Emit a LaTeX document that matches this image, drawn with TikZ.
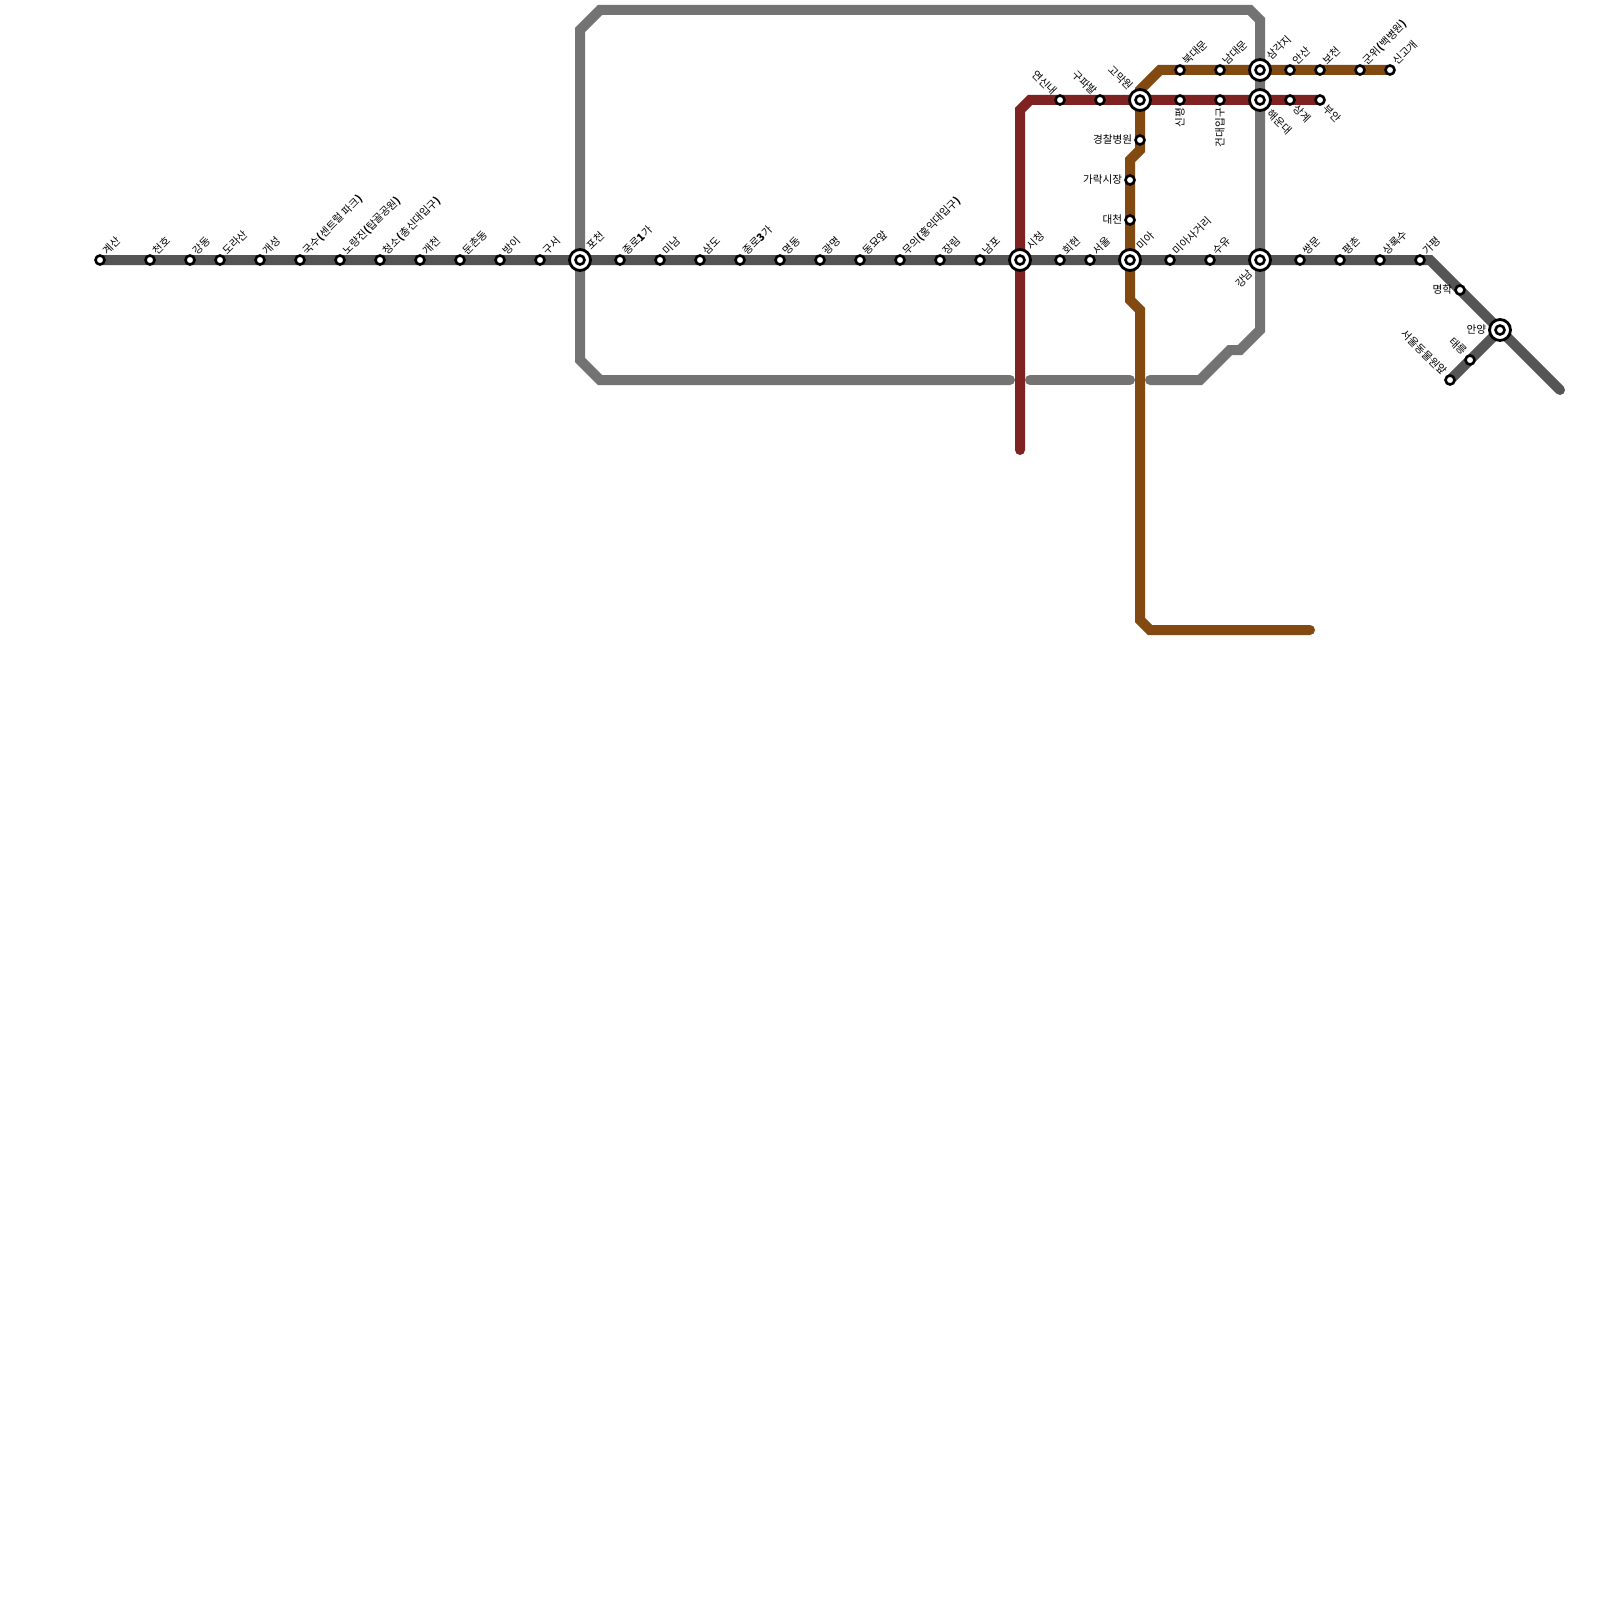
\documentclass[tikz,border=0pt]{standalone}
\usepackage{fontspec}
\setmainfont{Noto Sans CJK KR}
\pgfdeclarelayer{bg}
\pgfsetlayers{bg,main}
\definecolor{mainln}{HTML}{555555}
\definecolor{loopln}{HTML}{737373}
\definecolor{redln}{HTML}{7F2222}
\definecolor{brownln}{HTML}{824A10}
\tikzset{
  metro/.style={line width=10pt,line join=miter,line cap=round},
  stn/.style={circle,draw=black,fill=white,line width=2.6pt,minimum size=9pt,inner sep=0pt},
  hubout/.style={circle,draw=black,fill=white,line width=2.8pt,minimum size=21pt,inner sep=0pt},
  lab/.style={inner sep=0pt,outer sep=0pt,text=black,font=\fontsize{10.6}{12}\selectfont},
  labNE/.style={lab,anchor=west,xshift=5pt,yshift=7pt,rotate=45},
  labHNE/.style={lab,anchor=west,xshift=9pt,yshift=12pt,rotate=45},
  labNW/.style={lab,anchor=east,xshift=-5pt,yshift=7pt,rotate=-45},
  labHNW/.style={lab,anchor=east,xshift=-9pt,yshift=12pt,rotate=-45},
  labSE/.style={lab,anchor=west,xshift=5pt,yshift=-7pt,rotate=-45},
  labHSE/.style={lab,anchor=west,xshift=9pt,yshift=-12pt,rotate=-45},
  labHSW/.style={lab,anchor=east,xshift=-9pt,yshift=-12pt,rotate=45},
  labW/.style={lab,anchor=east,xshift=-8pt},
  labHW/.style={lab,anchor=east,xshift=-14pt},
  labS/.style={lab,anchor=east,yshift=-8pt,rotate=90},
}
\newcommand{\st}[5]{\node[stn] (#1) at (#2,#3) {}; \node[#4] (#1-t) at (#2,#3) {#5};}
\newcommand{\hb}[5]{\node[hubout] (#1) at (#2,#3) {}; \node[stn] (#1-c) at (#1.center) {}; \node[#4] (#1-t) at (#2,#3) {#5};}
\newcommand{\bd}[1]{{\bfseries #1}}
\begin{document}
\begin{tikzpicture}[x=1pt,y=-1pt]
\useasboundingbox (0,0) rectangle (1600,1600);
% main line stations
\st{a1}{100}{260}{labNE}{계산}
\st{a2}{150}{260}{labNE}{천호}
\st{a3}{190}{260}{labNE}{강동}
\st{a4}{220}{260}{labNE}{도라산}
\st{a5}{260}{260}{labNE}{개성}
\st{a6}{300}{260}{labNE}{국수\bd{(}센트럴 파크\bd{)}}
\st{a7}{340}{260}{labNE}{노량진\bd{(}탑골공원\bd{)}}
\st{a8}{380}{260}{labNE}{청소\bd{(}총신대입구\bd{)}}
\st{a9}{420}{260}{labNE}{개천}
\st{a10}{460}{260}{labNE}{둔촌동}
\st{a11}{500}{260}{labNE}{방이}
\st{a12}{540}{260}{labNE}{구서}
\hb{a13}{580}{260}{labHNE}{포천}
\st{a14}{620}{260}{labNE}{종로\bd{1}가}
\st{a15}{660}{260}{labNE}{미남}
\st{a16}{700}{260}{labNE}{삼도}
\st{a17}{740}{260}{labNE}{종로\bd{3}가}
\st{a18}{780}{260}{labNE}{명동}
\st{a19}{820}{260}{labNE}{광명}
\st{a20}{860}{260}{labNE}{동묘앞}
\st{a21}{900}{260}{labNE}{무의\bd{(}홍익대입구\bd{)}}
\st{a22}{940}{260}{labNE}{장림}
\st{a23}{980}{260}{labNE}{남포}
\hb{a24}{1020}{260}{labHNE}{시청}
\st{a25}{1060}{260}{labNE}{회현}
\st{a26}{1090}{260}{labNE}{서울}
\hb{a27}{1130}{260}{labHNE}{미아}
\st{a28}{1170}{260}{labNE}{미아사거리}
\st{a29}{1210}{260}{labNE}{수유}
\hb{a30}{1260}{260}{labHSW}{강남}
\st{a31}{1300}{260}{labNE}{쌍문}
\st{a32}{1340}{260}{labNE}{평촌}
\st{a33}{1380}{260}{labNE}{상록수}
\st{a34}{1420}{260}{labNE}{가평}
\st{a35}{1460}{290}{labW}{명학}
\hb{a36}{1500}{330}{labHW}{안양}
\st{a37}{1470}{360}{labNW}{태릉}
\st{a38}{1450}{380}{labNW}{서울동물원앞}
% red line stations
\st{r1}{1060}{100}{labNW}{연신내}
\st{r2}{1100}{100}{labNW}{구파발}
\hb{r3}{1140}{100}{labHNW}{고막원}
\st{r4}{1180}{100}{labS}{신평}
\st{r5}{1220}{100}{labS}{건대입구}
\hb{r6}{1260}{100}{labHSE}{해운대}
\st{r7}{1290}{100}{labSE}{상계}
\st{r8}{1320}{100}{labSE}{부안}
% brown line stations
\st{b1}{1180}{70}{labNE}{북대문}
\st{b2}{1220}{70}{labNE}{남대문}
\hb{b3}{1260}{70}{labHNE}{삼각지}
\st{b4}{1290}{70}{labNE}{안산}
\st{b5}{1320}{70}{labNE}{보천}
\st{b6}{1360}{70}{labNE}{군위\bd{(}백병원\bd{)}}
\st{b7}{1390}{70}{labNE}{신고개}
\st{b8}{1140}{140}{labW}{경찰병원}
\st{b9}{1130}{180}{labW}{가락시장}
\st{b10}{1130}{220}{labW}{대천}
% free ends and bends
\coordinate (endM) at (1560,390);
\coordinate (bendM) at (1430,260);
\coordinate (g1) at (1010,380);
\coordinate (g2) at (1030,380);
\coordinate (g3) at (1130,380);
\coordinate (g4) at (1150,380);
\coordinate (endR) at (1020,450);
\coordinate (endB) at (1310,630);
\begin{pgfonlayer}{bg}
 \fill[white] (0,0) rectangle (1600,1600);
 \draw[metro,loopln] (a13.center) -- (580,30) -- (600,10) -- (1250,10) -- (1260,20) -- (a30.center) -- (1260,330) -- (1240,350) -- (1230,350) -- (1200,380) -- (g4);
 \draw[metro,loopln] (g3) -- (g2);
 \draw[metro,loopln] (g1) -- (600,380) -- (580,360) -- (a13.center);
 \draw[metro,mainln] (a1.center) -- (a34.center) -- (bendM) -- (a36.center) -- (endM);
 \draw[metro,mainln] (a38.center) -- (a37.center) -- (a36.center);
 \draw[metro,redln] (endR) -- (a24.center) -- (1020,110) -- (1030,100) -- (r8.center);
 \draw[metro,brownln] (endB) -- (1150,630) -- (1140,620) -- (1140,310) -- (1130,300) -- (a27.center) -- (b9.center) -- (1130,160) -- (1140,150) -- (r3.center) -- (1140,90) -- (1160,70) -- (b7.center);
\end{pgfonlayer}
\end{tikzpicture}
\end{document}
